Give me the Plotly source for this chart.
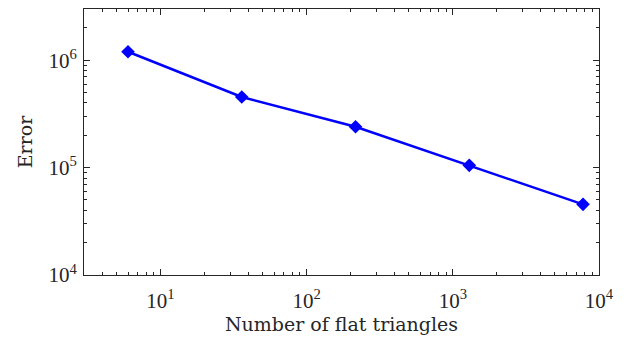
import numpy as np
import plotly.graph_objects as go

n_triangles = [6, 36, 216, 1296, 7776]
error = [1.2e6, 4.55e5, 2.4e5, 1.05e5, 4.55e4]

x_major = [10, 100, 1000, 10000]
x_major_text = ["10<sup>1</sup>", "10<sup>2</sup>", "10<sup>3</sup>", "10<sup>4</sup>"]
y_major = [1e4, 1e5, 1e6]
y_major_text = ["10<sup>4</sup>", "10<sup>5</sup>", "10<sup>6</sup>"]

x_minor = [m * 10 ** e for e in range(0, 4) for m in range(2, 10) if 3 <= m * 10 ** e <= 1e4]
y_minor = [m * 10 ** e for e in range(4, 7) for m in range(2, 10) if m * 10 ** e <= 3e6]

axcol = "#262626"
tickfont = "Liberation Serif, Times New Roman, serif"
titlefont = "DejaVu Serif, serif"

fig = go.Figure()
fig.add_trace(go.Scatter(
    x=n_triangles, y=error, mode="lines+markers",
    line=dict(color="#0000ff", width=2.5),
    marker=dict(symbol="diamond", size=10.5, color="#0000ff"),
    showlegend=False,
))

common = dict(
    type="log", showgrid=False, zeroline=False,
    showline=True, linecolor=axcol, linewidth=1, mirror="allticks",
    ticks="inside", ticklen=6, tickcolor=axcol,
    tickfont=dict(family=tickfont, size=21, color=axcol),
)
fig.update_xaxes(
    **common, range=[np.log10(3), 4], tickvals=x_major, ticktext=x_major_text,
    ticklabelstandoff=7,
    minor=dict(tickvals=x_minor, ticks="inside", ticklen=3, tickcolor=axcol, showgrid=False),
    title=dict(text="Number of flat triangles", font=dict(family=titlefont, size=19, color=axcol), standoff=1),
)
fig.update_yaxes(
    **common, range=[4, np.log10(3e6)], tickvals=y_major, ticktext=y_major_text,
    ticklabelstandoff=2,
    minor=dict(tickvals=y_minor, ticks="inside", ticklen=3, tickcolor=axcol, showgrid=False),
    title=dict(text="Error", font=dict(family=titlefont, size=19, color=axcol), standoff=10),
)
fig.update_layout(
    width=640, height=339,
    margin=dict(l=84, r=41, t=9, b=64, autoexpand=False),
    plot_bgcolor="white", paper_bgcolor="white",
)
fig.write_html("out.html", config={"displayModeBar": False},
               post_script="document.body.style.margin='0px';")
